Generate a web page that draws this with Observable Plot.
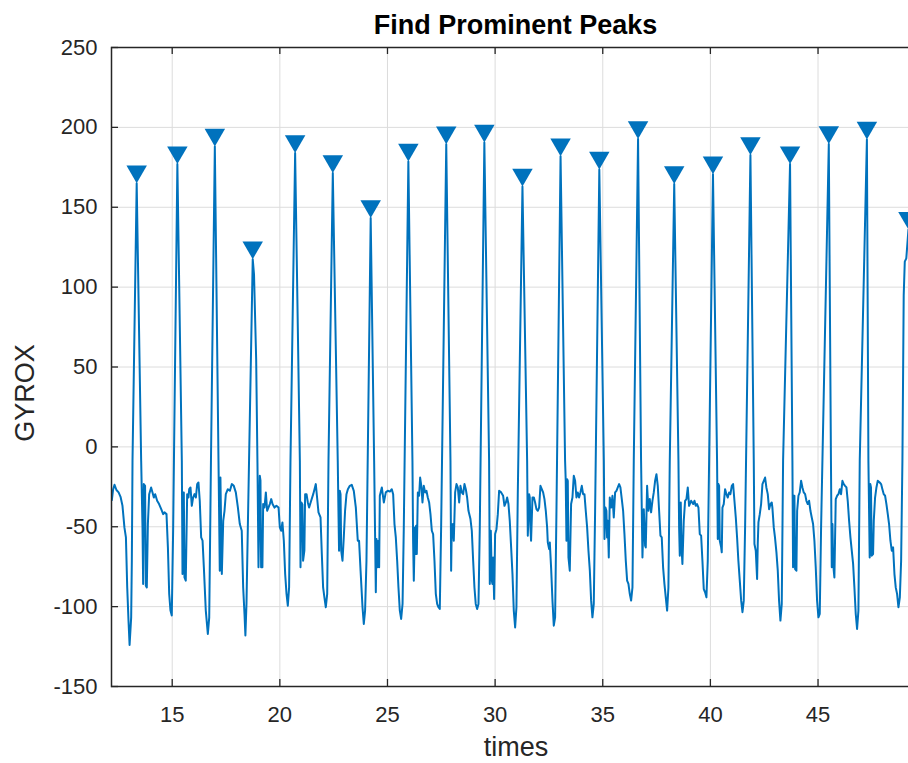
<!DOCTYPE html>
<html><head><meta charset="utf-8">
<script src="https://cdn.jsdelivr.net/npm/d3@7"></script>
<script src="https://cdn.jsdelivr.net/npm/@observablehq/plot@0.6"></script>
<style>
html,body{margin:0;padding:0;background:#fff;overflow:hidden;}
#wrap{width:908px;height:763px;overflow:hidden;position:relative;font-family:"Liberation Sans",Arial,Helvetica,sans-serif;background:#fff;}
#title{position:absolute;left:111px;width:809px;top:9px;height:32px;text-align:center;font-weight:bold;font-size:27px;line-height:32px;color:#000;z-index:2;}
#chart{position:absolute;left:0;top:30px;width:920px;z-index:1;}
#chart svg{max-width:none !important;}
</style></head>
<body><div id="wrap"><div id="title">Find Prominent Peaks</div><div id="chart"></div></div>
<script>
const times = [
12.18,12.196,12.258,12.32,12.41,12.51,12.60,12.69,12.78,12.85,12.91,12.97,13.02,13.094,13.125,13.156,13.35,13.558,13.62,13.65,13.68,13.74,13.775,13.82,13.87,13.93,14.02,14.085,14.146,14.21,14.30,14.39,14.49,14.58,14.64,14.735,14.80,14.86,14.92,14.98,15.045,15.24,15.447,15.478,15.51,15.54,15.57,15.63,15.695,15.757,15.79,15.85,15.91,15.97,16.035,16.10,16.16,16.22,16.28,16.345,16.41,16.47,16.56,16.655,16.72,16.80,16.98,17.15,17.21,17.24,17.305,17.37,17.43,17.49,17.584,17.68,17.77,17.86,17.955,18.05,18.14,18.23,18.296,18.358,18.40,18.45,18.513,18.74,18.80,18.90,18.96,19.008,19.07,19.10,19.13,19.19,19.225,19.287,19.35,19.41,19.47,19.535,19.60,19.66,19.75,19.84,19.94,20.00,20.06,20.12,20.185,20.247,20.31,20.37,20.43,20.494,20.71,20.93,20.96,21.00,21.05,21.08,21.14,21.175,21.24,21.30,21.36,21.455,21.55,21.61,21.67,21.73,21.795,21.89,21.95,22.01,22.07,22.135,22.20,22.26,22.46,22.69,22.72,22.75,22.785,22.82,22.85,22.91,22.97,23.03,23.095,23.16,23.25,23.34,23.435,23.53,23.62,23.68,23.75,23.84,23.90,23.96,24.024,24.22,24.38,24.458,24.489,24.535,24.58,24.613,24.644,24.737,24.83,24.922,25.015,25.11,25.20,25.263,25.325,25.387,25.45,25.51,25.573,25.635,25.70,25.758,25.97,26.16,26.19,26.223,26.27,26.30,26.33,26.362,26.41,26.47,26.517,26.58,26.625,26.687,26.75,26.81,26.873,26.935,26.997,27.06,27.12,27.183,27.245,27.307,27.37,27.43,27.492,27.73,27.926,27.957,27.988,28.02,28.05,28.08,28.143,28.205,28.267,28.33,28.39,28.452,28.514,28.576,28.638,28.70,28.762,28.855,28.917,28.98,29.04,29.10,29.165,29.227,29.288,29.50,29.72,29.753,29.80,29.846,29.877,29.907,29.954,30.00,30.063,30.125,30.186,30.28,30.372,30.434,30.50,30.558,30.62,30.68,30.744,30.806,30.867,30.93,30.99,31.053,31.27,31.487,31.518,31.58,31.61,31.64,31.67,31.735,31.80,31.858,31.92,31.982,32.044,32.106,32.168,32.23,32.292,32.354,32.416,32.447,32.509,32.54,32.60,32.664,32.725,32.787,32.849,33.04,33.25,33.28,33.314,33.345,33.376,33.407,33.468,33.53,33.592,33.654,33.716,33.778,33.84,33.90,33.963,34.026,34.088,34.15,34.21,34.274,34.336,34.40,34.46,34.52,34.583,34.645,34.84,35.05,35.08,35.125,35.17,35.20,35.234,35.28,35.326,35.39,35.45,35.512,35.574,35.636,35.698,35.76,35.82,35.884,35.946,36.008,36.07,36.132,36.193,36.255,36.317,36.38,36.441,36.64,36.78,36.844,36.906,36.967,36.998,37.06,37.122,37.184,37.246,37.308,37.37,37.432,37.494,37.556,37.618,37.68,37.74,37.803,37.865,37.927,37.99,38.05,38.113,38.32,38.516,38.547,38.578,38.624,38.655,38.70,38.763,38.825,38.887,38.95,39.01,39.104,39.20,39.26,39.32,39.38,39.445,39.507,39.57,39.63,39.692,39.754,39.816,39.878,40.12,40.31,40.343,40.374,40.405,40.436,40.50,40.528,40.56,40.62,40.683,40.745,40.807,40.87,40.93,40.993,41.055,41.117,41.18,41.24,41.30,41.365,41.43,41.49,41.55,41.612,41.86,42.015,42.046,42.108,42.17,42.20,42.232,42.294,42.356,42.418,42.48,42.541,42.60,42.665,42.727,42.79,42.85,42.88,42.944,43.00,43.068,43.13,43.19,43.253,43.315,43.377,43.70,43.81,43.84,43.873,43.904,43.935,43.996,44.03,44.09,44.15,44.213,44.275,44.337,44.40,44.46,44.523,44.585,44.647,44.708,44.77,44.832,44.894,44.956,45.018,45.08,45.142,45.50,45.60,45.638,45.67,45.70,45.73,45.76,45.823,45.885,45.947,46.01,46.07,46.133,46.195,46.257,46.32,46.38,46.443,46.505,46.567,46.63,46.69,46.752,46.814,46.876,46.938,47.27,47.34,47.40,47.43,47.46,47.495,47.557,47.59,47.65,47.713,47.775,47.867,47.93,47.99,48.053,48.115,48.177,48.24,48.30,48.363,48.425,48.487,48.55,48.61,48.672,48.735,48.80,48.86,48.92,48.98,49.03,49.10,49.20
];
const gyrox = [
-27.5,-33.3,-26.5,-23.75,-27,-28.5,-31.25,-36.9,-50.4,-56.7,-87.9,-108.75,-124,-106.7,-71,-8.75,165,-8.75,-50.4,-85.8,-23.3,-24.4,-86.9,-88,-48.3,-29.6,-25.4,-28.5,-31.7,-29.6,-33.75,-35.8,-39,-42.1,-41,-42.1,-62.9,-92,-102.5,-105.6,-50.4,177,-8.75,-79.6,-28.5,-28.5,-81.7,-83.75,-29.6,-31.7,-26.5,-25.4,-36.9,-31.7,-29.6,-31.7,-23.3,-22.3,-33.75,-56.7,-58.75,-75.4,-102.5,-117.1,-106.7,-8.75,188,-8.75,-77.5,-19.2,-79.6,-46.25,-40,-29.6,-26.5,-27.5,-23.3,-24.4,-28.5,-37.9,-48.3,-52.5,-87.9,-104.6,-118.1,-98.3,-50.4,117.5,108,55,-10,-75.4,-18.1,-21,-75.4,-75.4,-35.8,-38,-28.5,-40,-38,-35.8,-32.7,-35.8,-38,-36.9,-38,-50.4,-52.5,-47.3,-58.75,-79.6,-92,-99.4,-88,-8.75,184,-8.75,-75.4,-34.8,-36,-71.25,-65,-29.6,-29.6,-34.8,-38,-33.75,-29.6,-26.5,-23.3,-31.7,-41,-44.2,-67.1,-88,-94.2,-100.4,-92,-8.75,171.4,-8.75,-38,-65,-27.5,-29.6,-65,-71.25,-56.7,-40,-29.6,-26.5,-24.4,-23.75,-27.5,-38,-58.75,-58.75,-77.5,-100.4,-110.8,-102.5,-71.25,143.3,-8.75,-91,-57.7,-75.4,-58.75,-75.4,-30.6,-25.4,-34.8,-28.5,-27.5,-28,-26.5,-29.6,-48.3,-56.7,-71.25,-88,-102.5,-107.7,-98.3,-50.4,178.7,-8.75,-58.75,-83.75,-50.4,-67.1,-49.4,-67.1,-28.5,-30.6,-19.2,-25.4,-34.8,-24.4,-28.5,-27.5,-31.7,-34.8,-42.1,-52.5,-54.6,-71.25,-92,-98.3,-100.4,-101.5,-50.4,189.4,-8.75,-77.5,-48.3,-56.7,-48.3,-58.75,-28.5,-23.3,-25.4,-34.8,-24.4,-28.5,-29.6,-23.3,-26.5,-31.7,-40,-45.2,-52.5,-71.25,-88,-98.3,-101.5,-98.3,-50.4,190.6,-8.75,-85.8,-52.5,-83.75,-85.8,-69.2,-95.2,-54.6,-51.5,-42.1,-27.5,-28.5,-30.6,-36.9,-34.8,-31.7,-35.8,-46.25,-62.9,-79.6,-102.5,-113,-100.4,-29.6,163,-8.75,-55.6,-29.6,-31.7,-50.4,-58.75,-31.7,-31.7,-34.8,-39,-40,-38,-24.4,-26.5,-28.5,-32.7,-40,-50.4,-59.8,-64,-59.8,-75.4,-96.25,-111.9,-106.7,-40,182,-8.75,-21.25,-58.75,-20.2,-21.25,-69.2,-77.5,-35.8,-31.7,-18.1,-21.25,-31.7,-28.5,-31.7,-28.5,-24.4,-29.6,-29.6,-40,-50.4,-65,-77.5,-96.25,-106.7,-98.3,-40,173.6,-8.75,-57.7,-38,-40,-56.7,-46.25,-69.2,-31.7,-38,-30.6,-44.2,-28.5,-27.5,-25.4,-23.3,-25.4,-32.7,-40,-54.6,-71.25,-83.75,-85.8,-92,-96.25,-88,-8.75,192.8,-8.75,-69.2,-39,-61.9,-63,-24.4,-40,-32.7,-41,-33.75,-28.5,-21.25,-17.1,-24.4,-40,-55.6,-56.7,-75.4,-85.8,-94.2,-102.5,-88,-8.75,164.5,-8.75,-50.4,-68.1,-34.8,-61.9,-73.3,-46.25,-33.75,-32.7,-25.4,-36.9,-33.75,-35.8,-33.75,-36.9,-35.8,-38,-54.6,-55.6,-71.25,-89,-91,-94.2,-71.25,170.7,-8.75,-57.7,-23.3,-24.4,-58.75,-62.9,-66,-38,-35.8,-26.5,-29.6,-31.7,-28.5,-29.6,-24.4,-23.3,-33.75,-44.2,-56.7,-71.25,-83.75,-96.25,-103.5,-96.25,-50.4,182.7,-8.75,-60.8,-65,-82.7,-60.8,-47.3,-42.1,-35.8,-23.3,-21.25,-19.2,-25.4,-29.6,-39,-35.8,-34.8,-38,-50.4,-56.7,-66,-77.5,-96.25,-108.75,-98.3,-8.75,177,-8.75,-75.4,-30.6,-30.6,-76.5,-77.5,-40,-30.6,-28.5,-21.25,-25.4,-28.5,-29.6,-33.75,-35.8,-33.75,-40,-44.2,-48.3,-58.75,-75.4,-96.25,-106.7,-104.6,-50.4,189.6,-8.75,-75.4,-48.3,-71.25,-77.5,-81.7,-32.7,-30.6,-29.6,-26.5,-29.6,-21.25,-23.3,-24.4,-25.4,-33.75,-46.25,-56.7,-65,-73.3,-88,-104.6,-114,-102.5,-8.75,192.4,-8.75,-69.2,-23.3,-25.4,-68.1,-67.1,-46.25,-31.7,-25.4,-21.25,-22.3,-23.3,-26.5,-29.6,-30.6,-35.8,-42.1,-48.3,-58.75,-65,-62.9,-79.6,-88,-92,-100.4,-94.2,-71.25,-8.75,95,116,118,136
];
const peakTimes = [13.35,15.24,16.98,18.74,20.71,22.46,24.22,25.97,27.73,29.50,31.27,33.04,34.84,36.64,38.32,40.12,41.86,43.70,45.50,47.27,49.20];
const peakValues = [165,177,188,117.5,184,171.4,143.3,178.7,189.4,190.6,163,182,173.6,192.8,164.5,170.7,182.7,177,189.6,192.4,136];
const xTicks = [15,20,25,30,35,40,45];
const yTicks = [-150,-100,-50,0,50,100,150,200,250];
const xLabel = "times";
const yLabel = "GYROX";

const data = times.map((t, i) => ({t, v: gyrox[i]}));
const peaks = peakTimes.map((t, i) => ({t, v: peakValues[i]}));
const triDown = {
  draw(ctx, size) {
    const a = Math.sqrt(size * 4 / Math.sqrt(3));
    const h = a * Math.sqrt(3) / 2;
    ctx.moveTo(0, 0);
    ctx.lineTo(-a / 2, -h);
    ctx.lineTo(a / 2, -h);
    ctx.closePath();
  }
};
const axisColor = "#262626";
const gridColor = "#dcdcdc";
const chart = Plot.plot({
  width: 920, height: 733,
  marginLeft: 111, marginRight: 0, marginTop: 17, marginBottom: 77,
  style: {fontFamily: "'Liberation Sans', Arial, Helvetica, sans-serif", fontSize: "22px", color: axisColor, background: "white", maxWidth: "none"},
  x: {domain: [12.18, 49.76]},
  y: {domain: [-150, 250]},
  marks: [
    Plot.ruleX(xTicks, {stroke: gridColor, strokeWidth: 1}),
    Plot.ruleY(yTicks, {stroke: gridColor, strokeWidth: 1}),
    Plot.line(data, {x: "t", y: "v", stroke: "#0072BD", strokeWidth: 2, clip: true}),
    Plot.dot(peaks, {x: "t", y: "v", symbol: triDown, r: 7.6, fill: "#0072BD", stroke: null}),
    Plot.ruleX(xTicks, {stroke: axisColor, strokeWidth: 1.3, insetTop: 632}),
    Plot.ruleX(xTicks, {stroke: axisColor, strokeWidth: 1.3, insetBottom: 632}),
    Plot.ruleY(yTicks, {stroke: axisColor, strokeWidth: 1.3, insetRight: 802}),
    Plot.frame({stroke: axisColor, strokeWidth: 1.5}),
    Plot.axisX(xTicks, {anchor: "bottom", tickSize: 0, tickPadding: 20, label: null, tickFormat: d => String(d)}),
    Plot.axisY(yTicks, {anchor: "left", tickSize: 0, tickPadding: 14, label: null, tickFormat: d => String(d)}),
    Plot.text([xLabel], {frameAnchor: "bottom", lineAnchor: "middle", textAnchor: "middle", dy: 61, fontSize: 27, fill: axisColor}),
    Plot.text([yLabel], {frameAnchor: "left", lineAnchor: "middle", textAnchor: "middle", rotate: -90, dx: -86, dy: 26, fontSize: 27, fill: axisColor})
  ]
});
document.getElementById("chart").appendChild(chart);
</script>
</body></html>
